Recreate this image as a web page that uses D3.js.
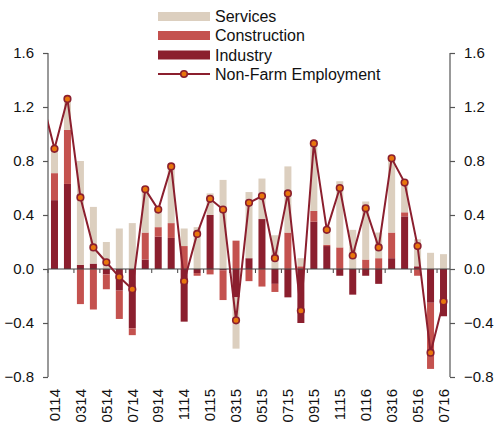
<!DOCTYPE html>
<html>
<head>
<meta charset="utf-8">
<script src="https://cdn.jsdelivr.net/npm/d3@7"></script>
<style>
  html, body { margin: 0; padding: 0; background: #fff; }
  svg { display: block; font-family: "Liberation Sans", Arial, sans-serif; }
</style>
</head>
<body>
<svg id="chart" width="495" height="423"></svg>
<script>
// Monthly change in employment by sector (Jan 2014 – Jul 2016)
const months = ["0114","0214","0314","0414","0514","0614","0714","0814","0914","1014","1114","1214",
                "0115","0215","0315","0415","0515","0615","0715","0815","0915","1015","1115","1215",
                "0116","0216","0316","0416","0516","0616","0716"];
const industry = [0.51, 0.63, 0.03, 0.04, -0.04, -0.16, -0.44, 0.07, 0.24, 0.23, -0.39, -0.03,
                  0.40, -0.01, -0.21, 0.08, 0.37, -0.11, -0.21, -0.40, 0.35, 0.17, -0.05, -0.19,
                  -0.05, -0.11, 0.08, 0.39, 0.02, -0.25, -0.35];
const construction = [0.20, 0.40, -0.26, -0.30, -0.11, -0.21, -0.05, 0.20, 0.07, 0.11, 0.17, -0.02,
                      -0.04, -0.22, 0.21, -0.09, -0.13, -0.06, 0.27, 0.02, 0.08, 0.01, 0.16, 0.00,
                      0.07, 0.08, 0.19, 0.03, -0.05, -0.49, 0.00];
const services = [0.17, 0.23, 0.77, 0.42, 0.20, 0.30, 0.34, 0.32, 0.13, 0.43, 0.13, 0.31,
                  0.16, 0.66, -0.38, 0.49, 0.30, 0.25, 0.49, 0.06, 0.50, 0.11, 0.49, 0.29,
                  0.43, 0.19, 0.55, 0.22, 0.20, 0.12, 0.11];
const nonFarm = [0.89, 1.26, 0.53, 0.16, 0.05, -0.06, -0.15, 0.59, 0.44, 0.76, -0.09, 0.26,
                 0.52, 0.44, -0.38, 0.49, 0.54, 0.08, 0.56, -0.31, 0.93, 0.29, 0.60, 0.10,
                 0.45, 0.16, 0.82, 0.64, 0.17, -0.62, -0.24];
// December 2013, the line enters the plot from here
const priorMonth = "1213";
const priorNonFarm = 1.27;
const yTicks = [-0.8, -0.4, 0.0, 0.4, 0.8, 1.2, 1.6];

(function () {
  const seriesKeys = ["Industry", "Construction", "Services"];
  const colors = { Industry: "#8b1f2e", Construction: "#c4524f", Services: "#dccfbf" };
  const lineColor = "#8b1f2e";
  const markerFill = "#e8760c";
  const axisColor = "#555";

  const svg = d3.select("#chart");
  const plotLeft = 48, plotRight = 450, plotTop = 53, plotBottom = 377;

  const x = d3.scaleBand().domain(months).range([plotLeft, plotRight]).padding(0);
  const xi = d3.scaleLinear().domain([-0.5, months.length - 0.5]).range([plotLeft, plotRight]);
  const y = d3.scaleLinear().domain([-0.8, 1.6]).range([plotBottom, plotTop]);

  const rows = months.map((m, i) => ({
    month: m, Industry: industry[i], Construction: construction[i], Services: services[i]
  }));
  const stacked = d3.stack().keys(seriesKeys).offset(d3.stackOffsetDiverging)(rows);

  svg.append("clipPath").attr("id", "plot")
    .append("rect").attr("x", plotLeft).attr("y", plotTop - 10)
    .attr("width", plotRight - plotLeft).attr("height", plotBottom - plotTop + 20);

  // stacked bars
  const barW = x.bandwidth() * 0.54;
  svg.append("g").selectAll("g").data(stacked).join("g")
    .attr("fill", d => colors[d.key])
    .selectAll("rect").data(d => d).join("rect")
    .attr("x", d => x(d.data.month) + (x.bandwidth() - barW) / 2)
    .attr("width", barW)
    .attr("y", d => y(Math.max(d[0], d[1])))
    .attr("height", d => Math.abs(y(d[0]) - y(d[1])));

  // zero line with ticks at every other month
  svg.append("line").attr("x1", plotLeft).attr("x2", plotRight).attr("y1", y(0)).attr("y2", y(0))
    .attr("stroke", "#444").attr("stroke-width", 1.2);
  svg.append("g").selectAll("line").data(months.filter((m, i) => i % 2 === 0)).join("line")
    .attr("x1", d => x(d)).attr("x2", d => x(d))
    .attr("y1", y(0)).attr("y2", y(0) + 4)
    .attr("stroke", "#444").attr("stroke-width", 1);

  // y axes
  const fmt = d3.format(".1f");
  const leftAxis = svg.append("g").attr("transform", `translate(${plotLeft},0)`)
    .call(d3.axisLeft(y).tickValues(yTicks).tickFormat(fmt).tickSize(5).tickPadding(9));
  const rightAxis = svg.append("g").attr("transform", `translate(${plotRight},0)`)
    .call(d3.axisRight(y).tickValues(yTicks).tickFormat(fmt).tickSize(5).tickPadding(9));
  [leftAxis, rightAxis].forEach(g => {
    g.select(".domain").attr("stroke", axisColor).attr("stroke-width", 1.2)
      .attr("d", `M0,${plotTop}V${plotBottom}`);
    g.selectAll(".tick line").attr("stroke", axisColor).attr("stroke-width", 1.2);
    g.selectAll(".tick text").attr("fill", "#111").style("font-size", "15px")
      .style("font-family", "'Liberation Sans', Arial, sans-serif");
  });

  // x labels, every other month, rotated
  svg.append("g").selectAll("text").data(months.filter((m, i) => i % 2 === 0)).join("text")
    .attr("transform", d => `translate(${x(d) + x.bandwidth() / 2},389) rotate(-90)`)
    .attr("text-anchor", "end").attr("dy", "0.35em")
    .style("font-size", "15px").attr("fill", "#111")
    .text(d => d);

  // non-farm employment line
  const linePts = [{ i: -1, v: priorNonFarm, m: priorMonth }]
    .concat(nonFarm.map((v, i) => ({ i, v, m: months[i] })));
  svg.append("path").datum(linePts)
    .attr("clip-path", "url(#plot)")
    .attr("fill", "none").attr("stroke", lineColor).attr("stroke-width", 2)
    .attr("d", d3.line().x(d => xi(d.i)).y(d => y(d.v)));
  svg.append("g").selectAll("circle").data(linePts.filter(d => d.i >= 0)).join("circle")
    .attr("cx", d => xi(d.i)).attr("cy", d => y(d.v)).attr("r", 3.3)
    .attr("fill", markerFill).attr("stroke", lineColor).attr("stroke-width", 1.6);

  // legend
  const legend = svg.append("g");
  const legendRows = [
    { label: "Services", key: "Services", cy: 16.5 },
    { label: "Construction", key: "Construction", cy: 35.5 },
    { label: "Industry", key: "Industry", cy: 55 },
    { label: "Non-Farm Employment", key: null, cy: 74 }
  ];
  legendRows.forEach(r => {
    if (r.key) {
      legend.append("rect").attr("x", 158).attr("y", r.cy - 4.5).attr("width", 52).attr("height", 9)
        .attr("fill", colors[r.key]);
    } else {
      legend.append("line").attr("x1", 158).attr("x2", 210).attr("y1", r.cy).attr("y2", r.cy)
        .attr("stroke", lineColor).attr("stroke-width", 2);
      legend.append("circle").attr("cx", 184).attr("cy", r.cy).attr("r", 3.3)
        .attr("fill", markerFill).attr("stroke", lineColor).attr("stroke-width", 1.6);
    }
    legend.append("text").attr("x", 215).attr("y", r.cy).attr("dy", "0.35em")
      .style("font-size", "16px").attr("fill", "#111").text(r.label);
  });
})();
</script>
</body>
</html>
